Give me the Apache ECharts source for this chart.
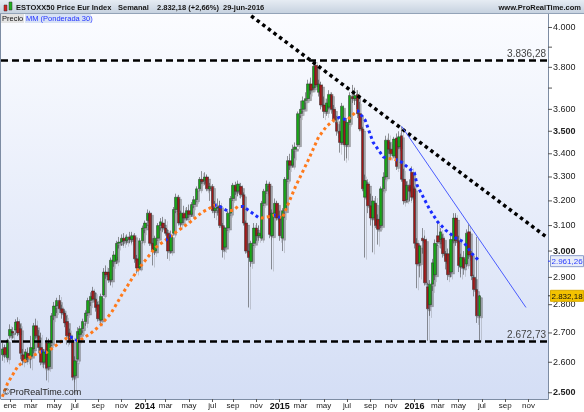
<!DOCTYPE html>
<html><head><meta charset="utf-8">
<script src="https://cdn.jsdelivr.net/npm/echarts@6/dist/echarts.min.js"></script>
<style>html,body{margin:0;padding:0;background:#fff}#c{width:584px;height:412px}</style>
</head><body><div id="c"></div>
<script>
// ---- data (weekly candles) ----
const firstWeekMonday = '2012-12-17';
const weekCount = 211;
const monthNames = ['ene','feb','mar','abr','may','jun','jul','ago','sep','oct','nov','dic'];
const opens = [2625,2650,2615,2690,2705,2710,2740,2715,2625,2608,2630,2620,2645,2725,2690,2650,2600,2665,2585,2665,
2760,2795,2815,2785,2770,2740,2700,2675,2555,2610,2695,2715,2740,2770,2815,2850,2820,2800,2745,2835,
2920,2920,2890,2960,2965,3030,3035,3050,3040,3055,3045,3060,2970,2935,3040,3090,3120,3150,3030,3000,
3050,3100,3110,3090,3070,3000,3070,3165,3215,3110,3150,3130,3160,3145,3185,3205,3250,3290,3285,3300,
3250,3260,3160,3170,3180,3100,3015,3090,3150,3210,3265,3240,3260,3225,3110,3000,2960,3030,3090,3060,
3050,3190,3240,3270,3060,3150,3190,3135,3050,3160,3290,3370,3350,3420,3440,3580,3600,3640,3650,3720,
3700,3810,3680,3715,3620,3590,3610,3670,3600,3540,3500,3450,3550,3440,3540,3660,3650,3670,3580,3510,
3215,3270,3180,3130,3190,3125,3100,3250,3300,3460,3420,3390,3470,3430,3480,3290,3205,3265,3320,3250,
3030,2955,3050,3045,2865,2800,2875,2910,3060,3045,3050,2990,2990,2920,3040,3130,3040,2940,2975,2950,
3075,2990,2900,2855,2760];
const highs = [2665,2660,2680,2730,2720,2748,2755,2730,2645,2645,2650,2690,2735,2750,2710,2700,2645,2685,2680,2770,
2810,2825,2835,2800,2785,2760,2715,2690,2620,2720,2725,2750,2780,2825,2845,2865,2845,2810,2840,2935,
2945,2935,2975,3000,3040,3055,3065,3070,3065,3075,3075,3070,2985,3050,3100,3120,3165,3160,3050,3060,
3110,3130,3135,3125,3085,3080,3175,3230,3225,3160,3180,3175,3185,3195,3220,3260,3300,3325,3320,3310,
3275,3270,3200,3210,3200,3110,3100,3160,3220,3275,3280,3285,3275,3235,3120,3030,3040,3110,3110,3100,
3200,3250,3285,3280,3165,3210,3200,3160,3170,3300,3390,3400,3440,3450,3590,3640,3660,3680,3740,3750,
3820,3836.28,3740,3730,3660,3650,3690,3680,3620,3570,3545,3630,3560,3560,3680,3715,3700,3690,3635,3520,
3310,3290,3230,3220,3220,3145,3260,3320,3480,3490,3450,3475,3490,3500,3520,3335,3280,3290,3345,3260,
3050,3030,3090,3060,2880,2890,2970,3045,3120,3090,3065,3000,3010,3060,3150,3150,3060,2990,3000,3085,
3105,3000,2910,3055,2835];
const lows = [2605,2615,2600,2680,2680,2695,2690,2610,2590,2598,2600,2580,2630,2680,2630,2590,2580,2540,2575,2655,
2745,2770,2770,2750,2720,2660,2660,2540,2500,2600,2670,2700,2725,2760,2795,2815,2775,2740,2730,2830,
2895,2880,2870,2940,2950,3010,3020,3020,3025,3030,3030,2955,2915,2930,3030,3070,3100,3020,2945,2985,
3040,3080,3075,3060,2970,2990,3060,3150,3100,3095,3110,3120,3130,3135,3170,3195,3240,3270,3265,3240,
3200,3150,3130,3140,3090,2975,3000,3080,3140,3200,3225,3220,3210,3100,2990,2790,2940,3020,3040,3040,
3040,3180,3230,3050,2930,3130,3120,3040,3000,3130,3280,3330,3340,3380,3430,3560,3580,3600,3640,3670,
3690,3700,3660,3600,3560,3570,3600,3580,3540,3480,3405,3440,3370,3380,3530,3630,3620,3560,3500,3240,
2975,3150,3100,2995,3090,3025,3090,3240,3290,3400,3380,3380,3330,3420,3280,3185,3195,3200,3200,3010,
2860,2900,2990,2870,2672.73,2760,2850,2890,3020,3010,2975,2930,2890,2900,3030,3020,2920,2900,2910,2940,
2970,2890,2830,2735,2675];
const closes = [2645,2625,2675,2712,2700,2738,2700,2630,2605,2635,2615,2650,2725,2690,2650,2600,2635,2580,2665,2760,
2795,2815,2785,2770,2735,2690,2672,2550,2605,2705,2715,2740,2770,2815,2830,2820,2790,2750,2830,2920,
2910,2890,2965,2985,3030,3035,3050,3040,3055,3045,3060,2970,2935,3040,3090,3110,3150,3030,3000,3050,
3100,3115,3090,3070,3000,3060,3165,3215,3110,3150,3130,3160,3145,3185,3205,3250,3290,3280,3300,3250,
3260,3160,3170,3175,3100,3005,3090,3150,3210,3265,3240,3270,3225,3110,3000,2975,3030,3090,3060,3070,
3190,3240,3270,3065,3150,3190,3130,3060,3160,3290,3370,3350,3420,3430,3580,3600,3640,3650,3720,3690,
3805,3715,3720,3620,3590,3630,3670,3600,3550,3500,3450,3615,3440,3540,3665,3650,3665,3580,3510,3250,
3285,3180,3130,3200,3100,3085,3250,3300,3460,3420,3400,3465,3345,3475,3290,3200,3265,3240,3215,3030,
2950,3020,3040,2880,2785,2875,2955,3030,3035,3075,2990,2960,2910,3045,3130,3040,2945,2975,2935,3070,
2985,2905,2855,2760,2832.18];
// weighted moving average (30)
const maWeek  = [0,2,6,10,15,17,20,23,26,29,30,34,38,42,46,50,52,59,64,67,72,77,82,83,87,89,91,93,99,100,104,105,107,108,113,118,122,125,128,130,133,137,140,143,147,149,152,154,159,160,163,165,168,171,175,178,181,184];
const maValue = [2487,2530,2587,2614,2636,2633,2652,2673,2688,2673,2675,2698,2728,2770,2834,2895,2925,3013,3050,3074,3110,3153,3182,3183,3158,3162,3178,3177,3131,3130,3138,3142,3134,3130,3257,3372,3474,3521,3552,3563,3550,3595,3550,3451,3386,3380,3374,3364,3317,3265,3203,3162,3114,3082,3050,3035,2992,2961.26];
// week indexes where the average changes colour (starts rising = orange)
const maColourBreaks = [15,17,26,29,63,65,82,88,92,99,105,107,129,133,137,148,152];
const resistanceLevel = 3836.28;
const supportLevel = 2672.73;
const blackTrendWeeks = [96, 210];
const blackTrendValues = [4060, 3054];
const blueTrendWeeks = [154, 202];
const blueTrendValues = [3523, 2790];
const yTickValues = [2500,2600,2700,2800,2900,3000,3100,3200,3300,3400,3500,3600,3700,3800,3900,4000];
const yLabelValues = [2500,2600,2700,2800,2900,3000,3100,3200,3300,3400,3500,3600,3800,4000];
const yBoldValues = [2500,3000,3500];
const lastMA = 2961.26;
const lastClose = 2832.18;

// ---- helpers ----
function fmtEs(v, dec) {
  const s = v.toFixed(dec);
  let parts = s.split('.');
  let ip = parts[0].replace(/\B(?=(\d{3})+(?!\d))/g, '.');
  return parts[1] ? ip + ',' + parts[1] : ip;
}
const categories = [];
(function () {
  const p = firstWeekMonday.split('-').map(Number);
  const t0 = Date.UTC(p[0], p[1] - 1, p[2]);
  for (let i = 0; i < weekCount; i++) {
    categories.push(new Date(t0 + i * 7 * 86400000).toISOString().slice(0, 10));
  }
})();
function isTickWeek(idx) {
  const d = new Date(categories[idx] + 'T00:00:00Z');
  return d.getUTCDate() <= 7 && d.getUTCMonth() % 2 === 0;
}
const candleData = opens.map((o, i) => [o, closes[i], lows[i], highs[i]]);
const maData = maWeek.map((w, k) => [w, maValue[k]]);
const ORANGE = '#ff7a1c', BLUE = '#1a2cff';
const pieces = [];
for (let k = 0; k <= maColourBreaks.length; k++) {
  const pc = { color: k % 2 === 0 ? ORANGE : BLUE };
  if (k > 0) pc.gte = maColourBreaks[k - 1];
  if (k < maColourBreaks.length) pc.lt = maColourBreaks[k];
  pieces.push(pc);
}
const FONT = 'Liberation Sans';
function txt(text, x, y, size, weight, fill, align) {
  return { type: 'text', z: 101, style: { text: text, x: x, y: y, fontSize: size, fontWeight: weight, fontFamily: FONT,
    fill: fill, align: align || 'left', textAlign: align || 'left', verticalAlign: 'middle', textVerticalAlign: 'middle' } };
}

const chart = echarts.init(document.getElementById('c'), null, { renderer: 'canvas' });
const option = {
  animation: false,
  backgroundColor: '#ffffff',
  grid: {
    left: 1, right: 36, top: 14, bottom: 13, show: true, borderWidth: 0,
    backgroundColor: new echarts.graphic.LinearGradient(0, 0, 0, 1, [
      { offset: 0, color: '#fbfcff' }, { offset: 1, color: '#d4def5' }])
  },
  xAxis: {
    type: 'category', data: categories, boundaryGap: true,
    axisLine: { show: true, lineStyle: { color: '#7d8ca3', width: 1 } },
    axisTick: { show: true, interval: (i) => isTickWeek(i), alignWithLabel: true, length: 3, lineStyle: { color: '#555' } },
    axisLabel: {
      interval: (i) => isTickWeek(i), margin: 3, fontSize: 8, color: '#222', fontFamily: FONT,
      formatter: function (val) {
        const d = new Date(val + 'T00:00:00Z');
        const m = d.getUTCMonth(), y = d.getUTCFullYear();
        if (m === 0 && y > 2013) return '{y|' + y + '}';
        return monthNames[m];
      },
      rich: { y: { fontWeight: 'bold', fontSize: 9, color: '#111', fontFamily: FONT } }
    },
    splitLine: { show: false }
  },
  yAxis: {
    type: 'log', logBase: 10, min: 2480, max: 4070, position: 'right',
    axisLine: { show: true, lineStyle: { color: '#7d8ca3', width: 1 } },
    axisTick: { show: false }, axisLabel: { show: false }, splitLine: { show: false }
  },
  visualMap: {
    show: false, type: 'piecewise', dimension: 0, seriesIndex: 1, pieces: pieces
  },
  series: [
    {
      type: 'candlestick', data: candleData, barWidth: 3, z: 2,
      itemStyle: {
        color: '#14a814', color0: '#a01818', borderColor: '#2a2a2a', borderColor0: '#2a2a2a', borderWidth: 0.5,
        shadowColor: 'rgba(90,90,90,0.5)', shadowBlur: 0, shadowOffsetX: 2, shadowOffsetY: 2
      },
      markLine: {
        silent: true, symbol: ['none', 'none'], animation: false,
        lineStyle: { color: '#000', width: 2.6, type: [7, 4] },
        label: { show: true, position: 'insideEndTop', color: '#444', fontSize: 10, fontFamily: FONT, distance: [2, 1] },
        data: [
          { yAxis: resistanceLevel, label: { formatter: fmtEs(resistanceLevel, 2) } },
          { yAxis: supportLevel, label: { formatter: fmtEs(supportLevel, 2) } }
        ]
      }
    },
    {
      type: 'line', data: maData, symbol: 'none', z: 4, silent: true,
      lineStyle: { width: 3, type: [3, 3], cap: 'butt' }
    },
    {
      type: 'line', data: blackTrendWeeks.map((w, k) => [w, blackTrendValues[k]]), symbol: 'none', z: 5, silent: true,
      lineStyle: { color: '#000', width: 3.5, type: [3.5, 3.5], cap: 'butt' }
    },
    {
      type: 'line', data: blueTrendWeeks.map((w, k) => [w, blueTrendValues[k]]), symbol: 'none', z: 5, silent: true,
      lineStyle: { color: '#4a5cff', width: 1 }
    },
    {
      type: 'custom', silent: true, z: 6, clip: false,
      data: yTickValues.map(v => [0, v]),
      renderItem: function (params, api) {
        const v = api.value(1);
        const y = api.coord([0, v])[1];
        const cs = params.coordSys;
        const xr = cs.x + cs.width;
        const ch = [{ type: 'line', shape: { x1: xr, y1: y, x2: xr + 4, y2: y }, style: { stroke: '#555', lineWidth: 1 } }];
        if (yLabelValues.indexOf(v) >= 0) {
          const bold = yBoldValues.indexOf(v) >= 0;
          ch.push({ type: 'text', style: { text: fmtEs(v, 0), x: xr + 5, y: y, fill: '#222',
            fontSize: 9, fontWeight: bold ? 'bold' : 'normal', fontFamily: FONT,
            textAlign: 'left', textVerticalAlign: 'middle', align: 'left', verticalAlign: 'middle' } });
        }
        return { type: 'group', children: ch };
      }
    },
    {
      type: 'custom', silent: true, z: 7, clip: false,
      data: [[0, lastMA, 0], [0, lastClose, 1]],
      renderItem: function (params, api) {
        const v = api.value(1), kind = api.value(2);
        const y = api.coord([0, v])[1];
        const cs = params.coordSys;
        const xr = cs.x + cs.width;
        const isMA = kind === 0;
        return { type: 'group', children: [
          { type: 'line', shape: { x1: xr, y1: y, x2: xr + 3, y2: y }, style: { stroke: isMA ? '#2a3cff' : '#333', lineWidth: 1 } },
          { type: 'rect', shape: { x: xr + 2.5, y: y - 5.5, width: 33, height: 11 },
            style: { fill: isMA ? '#e8edf8' : '#f3c300', stroke: isMA ? '#8d9dcc' : '#d9aa00', lineWidth: 1 } },
          { type: 'text', style: { text: fmtEs(v, 2), x: xr + 3.5, y: y + 0.5, fill: isMA ? '#2a3cff' : '#111',
            fontSize: 8, fontFamily: FONT, textAlign: 'left', textVerticalAlign: 'middle', align: 'left', verticalAlign: 'middle' } }
        ] };
      }
    }
  ],
  graphic: [
    { type: 'rect', z: 100, shape: { x: 0, y: 0, width: 584, height: 14 },
      style: { fill: new echarts.graphic.LinearGradient(0, 0, 0, 1, [{ offset: 0, color: '#e6ecf3' }, { offset: 1, color: '#c4d0de' }]) } },
    { type: 'line', z: 100, shape: { x1: 0, y1: 13.5, x2: 584, y2: 13.5 }, style: { stroke: '#93a3b8', lineWidth: 1 } },
    { type: 'rect', z: 101, shape: { x: 4, y: 5, width: 3, height: 6 }, style: { fill: '#d42020', stroke: '#333', lineWidth: 0.5 } },
    { type: 'rect', z: 101, shape: { x: 9, y: 2, width: 3, height: 8 }, style: { fill: '#20b020', stroke: '#333', lineWidth: 0.5 } },
    txt('ESTOXX50 Price Eur Index', 16, 7.5, 7.5, 'bold', '#151515'),
    txt('Semanal', 118, 7.5, 7.5, 'bold', '#151515'),
    txt('2.832,18 (+2,66%)', 157, 7.5, 7.5, 'bold', '#151515'),
    txt('29-jun-2016', 223, 7.5, 7.5, 'bold', '#151515'),
    txt('www.ProRealTime.com', 581, 7.5, 7.5, 'bold', '#151515', 'right'),
    { type: 'rect', z: 100, shape: { x: 0, y: 14, width: 24, height: 9 }, style: { fill: '#e3e3e3' } },
    txt('Precio', 2, 18.5, 7.5, 'normal', '#111'),
    { type: 'rect', z: 100, shape: { x: 25, y: 14, width: 66, height: 9 }, style: { fill: '#d8e2f5' } },
    txt('MM (Ponderada 30)', 26, 18.5, 7.5, 'normal', '#2233ff'),
    { type: 'line', z: 100, shape: { x1: 0.5, y1: 14, x2: 0.5, y2: 399 }, style: { stroke: '#7d8ca3', lineWidth: 1 } },
    txt('©ProRealTime.com', 3, 393, 9, 'normal', '#222')
  ]
};
chart.setOption(option);
</script>
</body></html>
